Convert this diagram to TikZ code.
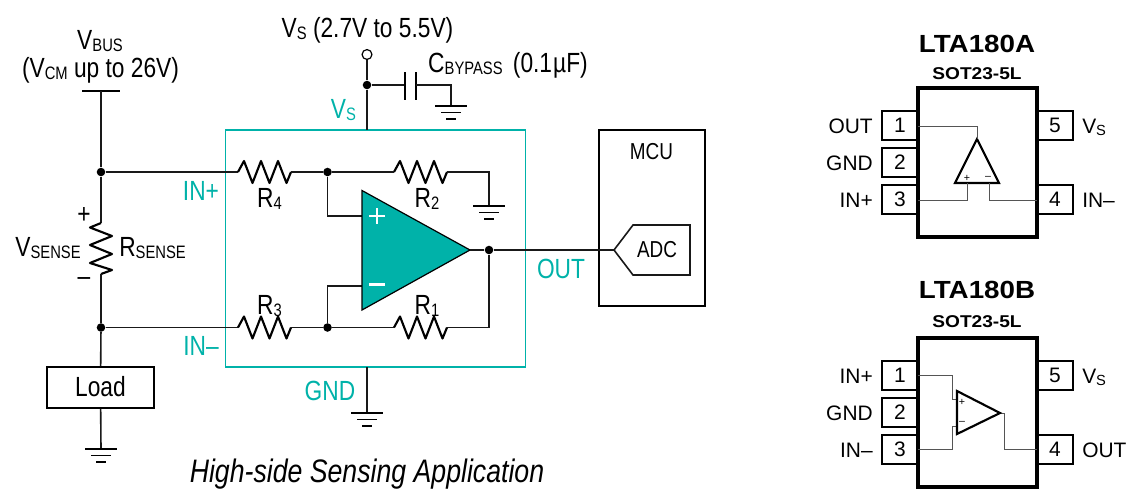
\documentclass[tikz,border=0pt]{standalone}
\usepackage{fontspec}
\setmainfont{Liberation Sans}
\newfontfamily\nar[FakeStretch=0.82]{Liberation Sans}
\newfontfamily\wid[FakeStretch=1.12]{Liberation Sans}
\newcommand\mn{\nar\fontsize{20.8}{24}\selectfont}
\newcommand\sml{\nar\fontsize{17.3}{20}\selectfont}
\newcommand\sbs[1]{\raisebox{-1.5pt}{\fontsize{13.5}{15}\selectfont #1}}
\newcommand\pn{\fontsize{15.7}{18}\selectfont}
\newcommand\pnsub[1]{\raisebox{-1.5pt}{\fontsize{11}{13}\selectfont #1}}
\definecolor{tl}{HTML}{00B2A9}
\definecolor{grw}{HTML}{555555}
\tikzset{
  x=0.75pt,y=-0.75pt,
  wire/.style={draw=black!90,line width=1.2pt,line join=miter},
  reswire/.style={draw=black,line width=1.6pt,line join=round},
  jdot/.style={circle,fill=black,inner sep=0pt,minimum size=6.4pt},
  gbar/.style={draw=black,line width=2.1pt},
  gthin/.style={draw=black,line width=1pt},
  txt/.style={inner sep=0pt,anchor=base,font=\mn},
  ttl/.style={txt,text=tl},
  pinbox/.style={draw=black,line width=1.5pt,fill=white,inner sep=0pt,minimum width=27pt,minimum height=21.75pt,font=\pn},
  pkg/.style={draw=black,line width=2.6pt,fill=white,inner sep=0pt,minimum width=89.25pt,minimum height=111.75pt},
  plbl/.style={inner sep=0pt,font=\pn},
  thinw/.style={draw=grw,line width=0.75pt},
  chip/.style={draw=black,line width=1.6pt,line join=miter},
  ptitle/.style={inner sep=0pt,anchor=base,font=\bfseries\wid\fontsize{18.6}{22}\selectfont},
  psub/.style={inner sep=0pt,anchor=base,font=\bfseries\wid\fontsize{12.8}{15}\selectfont},
  tiny/.style={inner sep=0pt,font=\fontsize{8}{9}\selectfont},
}
\newcommand\hres[2]{\draw[reswire] (#1) -- ++(6,-11) -- ++(8.5,22) -- ++(8.5,-22) -- ++(8.5,22) -- ++(8.5,-22) -- ++(8.5,22) -- ++(4.5,-11) coordinate (#2);}
\newcommand\gnd[2]{\draw[gbar] (#1,#2) ++(-16,0) -- ++(32,0);
  \draw[gthin] (#1,#2) ++(-10,6.5) -- ++(20,0);
  \draw[gthin] (#1,#2) ++(-5,13) -- ++(10,0);}
\begin{document}
\begin{tikzpicture}
\useasboundingbox (0,0) rectangle (1127,490);
% teal package
\node[draw=tl,line width=1.15pt,inner sep=0pt,minimum width=225pt,minimum height=177.75pt] (ic) at (375.5,248.5) {};
% junctions
\node[jdot] (jp) at (101,172) {};
\node[jdot] (jn) at (101,327.5) {};
\node[jdot] (jp2) at (327.5,172) {};
\node[jdot] (jn2) at (327.5,327.5) {};
\node[jdot] (jo) at (489,250) {};
\node[jdot] (js) at (367,85) {};
\node[circle,draw=black,line width=0.9pt,fill=white,inner sep=0pt,minimum size=7.4pt] (vs) at (367,54.5) {};
% named points
\coordinate (vb) at (101,91);
\coordinate (r4a) at (238,172);
\coordinate (r3a) at (238,327.5);
\coordinate (r2a) at (394,172);
\coordinate (r1a) at (394,327.5);
\coordinate (rsa) at (101,223);
\coordinate (gr2) at (489,206);
\coordinate (gcap) at (451,106);
\coordinate (gic) at (367,413);
\coordinate (gld) at (101,449);
\coordinate (icv) at (367,130);
\coordinate (icg) at (367,367);
\coordinate (capa) at (405,85);
\coordinate (capb) at (416,85);
% VBUS
\draw[line width=1.8pt] (82,91) -- (120,91);
\draw[wire] (vb) -- (jp);
\draw[wire] (jp) -- (rsa);
\draw[wire] (jp) -- (r4a);
\draw[wire] (jn) -- (r3a);
% RSENSE
\draw[reswire] (rsa) -- ++(-11,4.5) -- ++(22,8.5) -- ++(-22,9) -- ++(22,9) -- ++(-22,9) -- ++(22,7) -- ++(-11,4) coordinate (rsb);
\draw[wire] (rsb) -- (jn);
\node[draw=black,line width=1.2pt,inner sep=0pt,minimum width=80.25pt,minimum height=30.75pt,font=\mn] (load) at (100.5,387.5) {};
\node[txt] (loadt) at (100.5,396) {Load};
\draw[wire] (jn) -- (load);
\draw[wire] (load) -- (gld);
\gnd{101}{449}
% resistors
\hres{r4a}{r4b}
\hres{r3a}{r3b}
\hres{r2a}{r2b}
\hres{r1a}{r1b}
\draw[wire] (r4b) -- (jp2) -- (r2a);
\draw[wire] (r3b) -- (jn2) -- (r1a);
\draw[wire] (r2b) -| (gr2);
\gnd{489}{206}
\draw[wire] (r1b) -| (jo);
% op amp
\coordinate (opa) at (362,190.5);
\coordinate (opb) at (362,310);
\coordinate (opc) at (470,250);
\coordinate (opp) at (362,216);
\coordinate (opm) at (362,286);
\draw[wire] (jp2) |- (opp);
\draw[wire] (jn2) |- (opm);
\draw[draw=black,line width=0.9pt,fill=tl] (opa) -- (opc) -- (opb) -- cycle;
\draw[white,line width=2pt] (369,216) -- (385,216) (377,208) -- (377,224);
\draw[white,line width=2pt] (369,284.5) -- (385,284.5);
\draw[wire] (opc) -- (jo);
% MCU
\node[draw=black,line width=1.2pt,inner sep=0pt,minimum width=79.5pt,minimum height=132pt] (mcu) at (652,218) {};
\node[txt,font=\sml] (mcut) at (651.5,159) {MCU};
\coordinate (adct) at (614,250);
\draw[wire] (jo) -- (adct);
\draw[wire] (adct) -- (633,225) -- (690,225) -- (690,275) -- (633,275) -- cycle;
\node[txt,font=\sml] (adc) at (657,257) {ADC};
% VS
\draw[wire] (vs) -- (js);
\draw[wire] (js) -- (icv);
\draw[wire] (js) -- (capa);
\draw[line width=1.6pt] (405,72) -- (405,100) (416,72) -- (416,100);
\draw[wire] (capb) -| (gcap);
\gnd{451}{106}
\draw[wire] (icg) -- (gic);
\gnd{367}{413}
% labels
\node[txt] (t1) at (100,49) {V\sbs{BUS}};
\node[txt] (t2) at (100.5,77) {(V\sbs{CM} up to 26V)};
\node[txt] (t3) at (367.5,37) {V\sbs{S} (2.7V to 5.5V)};
\node[txt] (t4) at (508,72) {C\sbs{BYPASS}\hspace{3pt} (0.1\hspace{0.8pt}µF)};
\node[ttl] (t5) at (343.5,118) {V\sbs{S}};
\node[ttl] (t6) at (201,200) {IN+};
\node[ttl] (t7) at (201,355) {IN–};
\node[ttl] (t8) at (561,278) {OUT};
\node[ttl] (t9) at (330,400) {GND};
\node[txt] (r4l) at (269.5,207) {R\sbs{4}};
\node[txt] (r2l) at (427,207) {R\sbs{2}};
\node[txt] (r3l) at (269.5,314) {R\sbs{3}};
\node[txt] (r1l) at (427,314) {R\sbs{1}};
\node[txt] (vsn) at (48,256) {V\sbs{SENSE}};
\node[txt] (rsn) at (152.5,256) {R\sbs{SENSE}};
\node[txt] (pl) at (84,223) {+};
\node[txt] (mi) at (84,285) {–};
\node[inner sep=0pt,anchor=base,font=\nar\itshape\fontsize{24.4}{28}\selectfont] (cap) at (367,482.5) {High-side Sensing Application};
% LTA180A
\node[ptitle] (ta) at (977,52) {LTA180A};
\node[psub] (sa) at (977,79) {SOT23-5L};
\node[pinbox] (a1) at (900,125.5) {1};
\node[pinbox] (a2) at (900,162.5) {2};
\node[pinbox] (a3) at (900,199.5) {3};
\node[pinbox] (a5) at (1055,125.5) {5};
\node[pinbox] (a4) at (1055,199.5) {4};
\node[pkg] (pa) at (977.5,162.5) {};
\node[plbl,anchor=base east] (la1) at (873,133) {OUT};
\node[plbl,anchor=base east] (la2) at (873,170) {GND};
\node[plbl,anchor=base east] (la3) at (873,207) {IN+};
\node[plbl,anchor=base west] (la5) at (1082,133) {V\pnsub{S}};
\node[plbl,anchor=base west] (la4) at (1082,207) {IN–};
\coordinate (atop) at (977,139);
\coordinate (ap) at (967,183);
\coordinate (am) at (989,183);
\draw[chip] (atop) -- (999,183) -- (955,183) -- cycle;
\draw[thinw] (918,126) -| (atop);
\draw[thinw] (918,200) -| (ap);
\draw[thinw] (1037,200) -| (am);
\node[tiny] (pa1) at (967,178) {+};
\node[tiny] (ma1) at (988,178) {–};
% LTA180B
\node[ptitle] (tb) at (977,298) {LTA180B};
\node[psub] (sb) at (977,327) {SOT23-5L};
\node[pinbox] (b1) at (900,375) {1};
\node[pinbox] (b2) at (900,412) {2};
\node[pinbox] (b3) at (900,449) {3};
\node[pinbox] (b5) at (1055,375) {5};
\node[pinbox] (b4) at (1055,449) {4};
\node[pkg] (pb) at (977.5,412.5) {};
\node[plbl,anchor=base east] (lb1) at (873,383) {IN+};
\node[plbl,anchor=base east] (lb2) at (873,420) {GND};
\node[plbl,anchor=base east] (lb3) at (873,457) {IN–};
\node[plbl,anchor=base west] (lb5) at (1082,383) {V\pnsub{S}};
\node[plbl,anchor=base west] (lb4) at (1082,457) {OUT};
\coordinate (bp) at (957,399);
\coordinate (bm) at (957,426);
\coordinate (bo) at (1000,413);
\draw[thinw] (918,375) -- (952,375) -- (952,399) -- (bp);
\draw[thinw] (918,449) -- (952,449) -- (952,426) -- (bm);
\draw[thinw] (bo) -- (1004,413) -- (1004,449) -- (1037,449);
\draw[chip] (957,391) -- (bo) -- (957,434) -- cycle;
\node[tiny] (pb1) at (962,402) {+};
\node[tiny] (mb1) at (962,423) {–};
\end{tikzpicture}
\end{document}
